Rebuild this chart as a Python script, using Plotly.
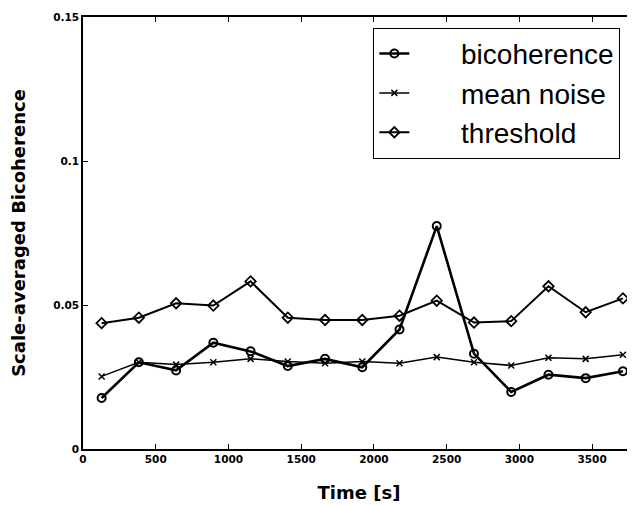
import plotly.graph_objects as go

time_s = [128, 384, 640, 896, 1152, 1408, 1664, 1920, 2176, 2432, 2688, 2944, 3200, 3456, 3712]
bicoherence = [0.0177, 0.0301, 0.0273, 0.0369, 0.0339, 0.0288, 0.0313, 0.0284, 0.0415, 0.0774,
               0.0331, 0.0198, 0.0258, 0.0246, 0.0270]
mean_noise = [0.0252, 0.0301, 0.0293, 0.0301, 0.0313, 0.0304, 0.0298, 0.0304, 0.0298, 0.0319,
              0.0301, 0.0290, 0.0317, 0.0313, 0.0327]
threshold = [0.0437, 0.0456, 0.0506, 0.0498, 0.0582, 0.0456, 0.0448, 0.0448, 0.0463, 0.0515,
             0.0439, 0.0444, 0.0565, 0.0475, 0.0523]

x_ticks = [0, 500, 1000, 1500, 2000, 2500, 3000, 3500]
x_tick_labels = ["0", "500", "1000", "1500", "2000", "2500", "3000", "3500"]
y_ticks = [0, 0.05, 0.1, 0.15]
y_tick_labels = ["0", "0.05", "0.1", "0.15"]

pad = "\u00a0" * 6
fig = go.Figure()
fig.add_trace(go.Scatter(
    x=time_s, y=bicoherence, mode="lines+markers", name=pad + "bicoherence",
    line=dict(color="black", width=2.6),
    marker=dict(symbol="circle-open", size=8, color="black", line=dict(width=2)),
))
fig.add_trace(go.Scatter(
    x=time_s, y=mean_noise, mode="lines+markers", name=pad + "mean noise",
    line=dict(color="black", width=1.5),
    marker=dict(symbol="x-thin-open", size=6, color="black", line=dict(width=1.5)),
))
fig.add_trace(go.Scatter(
    x=time_s, y=threshold, mode="lines+markers", name=pad + "threshold",
    line=dict(color="black", width=2),
    marker=dict(symbol="diamond-open", size=8, color="black", line=dict(width=1.8)),
))

tick_font = dict(family="DejaVu Sans", size=10.5, color="black", weight="bold")
title_font = dict(family="DejaVu Sans", size=18, color="black", weight="bold")

fig.update_layout(
    width=627, height=497,
    margin=dict(l=74.5, r=0, t=9.3, b=56.3),
    paper_bgcolor="white", plot_bgcolor="white",
    showlegend=True,
    legend=dict(
        x=0.526, y=0.975, xanchor="left", yanchor="top",
        bgcolor="white", bordercolor="black", borderwidth=1,
        font=dict(family="Liberation Sans", size=28, color="black"),
        tracegroupgap=0,
    ),
    xaxis=dict(
        range=[0, 3795], tickvals=x_ticks, ticktext=x_tick_labels,
        showgrid=False, zeroline=False, showline=True, linecolor="black", linewidth=1.5,
        mirror="ticks", ticks="inside", ticklen=5, tickcolor="black",
        tickfont=tick_font,
        title=dict(text="Time [s]", font=title_font, standoff=22),
    ),
    yaxis=dict(
        range=[0, 0.15], tickvals=y_ticks, ticktext=y_tick_labels,
        showgrid=False, zeroline=False, showline=True, linecolor="black", linewidth=1.5,
        mirror=False, ticks="inside", ticklen=5, tickcolor="black",
        tickfont=tick_font,
        title=dict(text="Scale-averaged Bicoherence", font=title_font, standoff=23),
    ),
    yaxis2=dict(
        range=[0, 0.15], tickvals=y_ticks, overlaying="y", side="right",
        showgrid=False, zeroline=False, showline=False, showticklabels=False,
        ticks="inside", ticklen=5, tickcolor="black",
    ),
)

fig.write_html("out.html")
